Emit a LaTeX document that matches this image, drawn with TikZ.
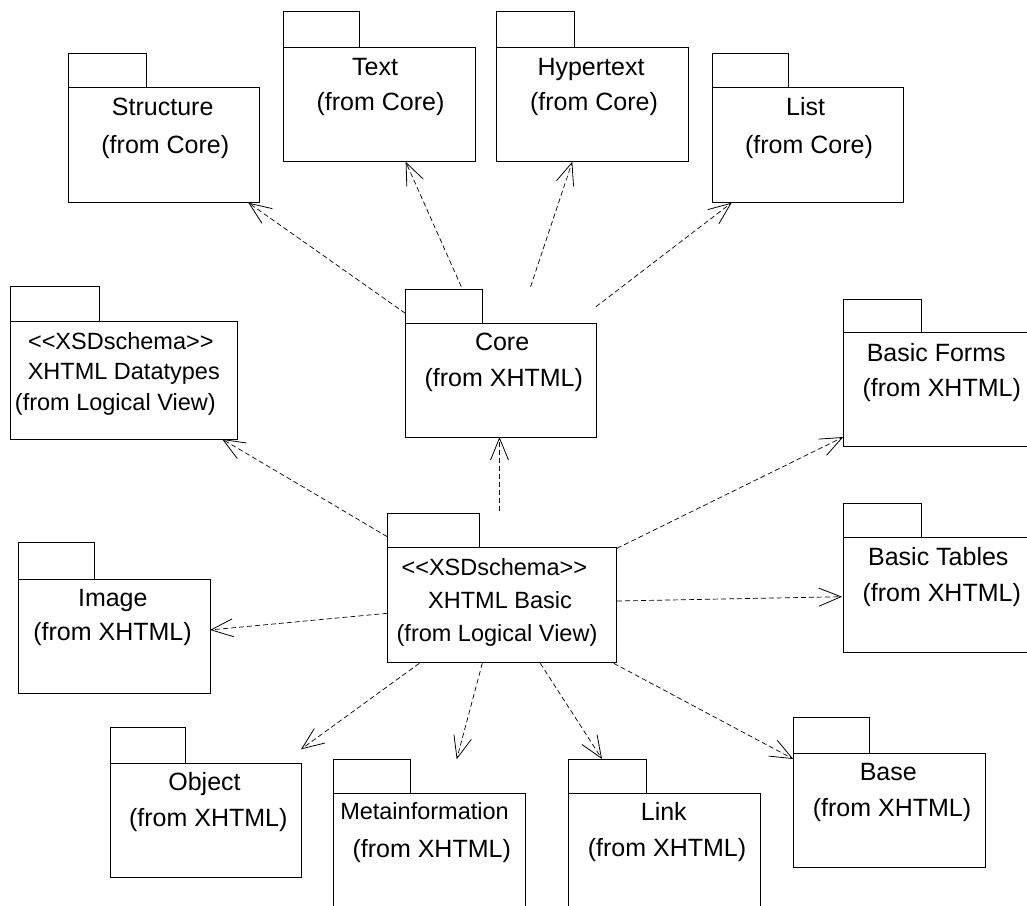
\documentclass[tikz,border=0pt]{standalone}
\usepackage{fontspec}
\setmainfont{Liberation Sans}
\usetikzlibrary{arrows.meta,calc}

\tikzset{
  pkgbox/.style={draw=black, line width=0.9pt, inner sep=0pt, outer sep=0pt},
  lbl/.style={anchor=base, inner sep=0pt, font=\fontsize{25}{29}\selectfont},
  lblsmall/.style={lbl, font=\fontsize{23.5}{28}\selectfont},
  dep/.style={draw=black, line width=0.7pt, dash pattern=on 5pt off 3pt,
    -{Straight Barb[length=22pt,width=18pt,line width=0.8pt]}},
}

% UML package: body node #1 and tab node #1-tab
% #2,#3 = body top-left, #4,#5 = body bottom-right, #6 = tab right edge, #7 = tab top
\newcommand\umlpkg[7]{%
  \node[pkgbox, minimum width={(#4-#2)*1pt}, minimum height={(#5-#3)*1pt}]
    (#1) at ({(#2+#4)/2},{(#3+#5)/2}) {};
  \node[pkgbox, minimum width={(#6-#2)*1pt}, minimum height={(#3-#7)*1pt}]
    (#1-tab) at ({(#2+#6)/2},{(#3+#7)/2}) {};
}
\newcommand\stereo[1]{<\kern0pt<#1>\kern0pt>}

\begin{document}
\begin{tikzpicture}[x=1pt,y=-1pt]
\useasboundingbox (0,0) rectangle (1027,905);
\clip (0,0) rectangle (1027,905);

% packages
\umlpkg{structure}{68.3}{87.3}{259.7}{202.7}{146}{53.3}
\umlpkg{text}{283.3}{47}{475}{161.7}{359.3}{11}
\umlpkg{hypertext}{496.8}{47}{688}{161.7}{574.6}{11}
\umlpkg{list}{712.3}{87.3}{903.7}{202.7}{788}{53.3}
\umlpkg{datatypes}{10.7}{321.7}{237.3}{439}{99.7}{286.7}
\umlpkg{core}{405.3}{323.3}{596.7}{437}{482.4}{289.5}
\umlpkg{forms}{843.3}{332.7}{1040}{446.7}{921.7}{299.3}
\umlpkg{basic}{387.3}{547.3}{616.3}{662.7}{479}{513.3}
\umlpkg{tables}{843.7}{537.3}{1040}{652.7}{921.7}{503.3}
\umlpkg{image}{18.3}{579}{210}{693.3}{94.3}{542.7}
\umlpkg{object}{110}{763.3}{301.7}{877}{185.7}{727.3}
\umlpkg{meta}{333.3}{793.3}{525}{920}{410.7}{759.3}
\umlpkg{link}{568.3}{793.3}{760}{920}{646.5}{759.3}
\umlpkg{base}{793.3}{753.7}{985}{867}{869.7}{717.3}

% package labels
\node[lbl] (structure-l1) at (162.7,115.7) {Structure};
\node[lbl] (structure-l2) at (165.3,153.3) {(from Core)};
\node[lbl] (text-l1) at (375,75) {Text};
\node[lbl] (text-l2) at (380.5,110) {(from Core)};
\node[lbl] (hypertext-l1) at (591,75) {Hypertext};
\node[lbl] (hypertext-l2) at (594,110) {(from Core)};
\node[lbl] (list-l1) at (805.6,115.7) {List};
\node[lbl] (list-l2) at (809,153.3) {(from Core)};
\node[lblsmall] (datatypes-l1) at (120.8,349) {\stereo{XSDschema}};
\node[lblsmall] (datatypes-l2) at (123.8,379) {XHTML Datatypes};
\node[lblsmall] (datatypes-l3) at (115.3,410) {(from Logical View)};
\node[lbl] (core-l1) at (502.1,350.7) {Core};
\node[lbl] (core-l2) at (503.8,386.7) {(from XHTML)};
\node[lbl] (forms-l1) at (936.2,361) {Basic Forms};
\node[lbl] (forms-l2) at (941.7,396.7) {(from XHTML)};
\node[lblsmall] (basic-l1) at (494.3,575) {\stereo{XSDschema}};
\node[lblsmall] (basic-l2) at (500,608) {XHTML Basic};
\node[lblsmall] (basic-l3) at (497,641) {(from Logical View)};
\node[lbl] (tables-l1) at (938.3,565) {Basic Tables};
\node[lbl] (tables-l2) at (941.7,601.7) {(from XHTML)};
\node[lbl] (image-l1) at (112.8,606) {Image};
\node[lbl] (image-l2) at (112.5,640) {(from XHTML)};
\node[lbl] (object-l1) at (204.5,790.7) {Object};
\node[lbl] (object-l2) at (208.3,826.7) {(from XHTML)};
\node[lblsmall] (meta-l1) at (424.5,819.3) {Metainformation};
\node[lbl] (meta-l2) at (431.7,857) {(from XHTML)};
\node[lbl] (link-l1) at (663.8,820) {Link};
\node[lbl] (link-l2) at (667,856.7) {(from XHTML)};
\node[lbl] (base-l1) at (888.3,780) {Base};
\node[lbl] (base-l2) at (892,816.7) {(from XHTML)};

% dependencies of Core
\draw[dep] ($(core.north west)+(0,-10)$) -- ($(structure.south east)+(-11.4,0)$);
\draw[dep] ($(core.north west)+(56,-36.6)$) -- ($(text.south)+(26.5,0)$);
\draw[dep] ($(core.north)+(29.6,-36.6)$) -- ($(hypertext.south)+(-20.1,0)$);
\draw[dep] ($(core.north east)+(-0.7,-16.6)$) -- ($(list.south west)+(19.4,0)$);

% dependencies of XHTML Basic
\draw[dep] ($(basic.north)+(-2.3,-36.3)$) -- ($(core.south)+(-1.5,0)$);
\draw[dep] ($(basic.north west)+(0,-10.6)$) -- ($(datatypes.south east)+(-15.3,0)$);
\draw[dep] ($(basic.north east)+(0.7,1)$) -- ($(forms.south west)+(0,-9.7)$);
\draw[dep] ($(basic.east)+(0.7,-4)$) -- ($(tables.west)+(-1.7,1.7)$);
\draw[dep] ($(basic.west)+(0,8.3)$) -- ($(image.east)+(0,-6.2)$);
\draw[dep] ($(basic.south west)+(32,0.6)$) -- ($(object.north east)+(-0.7,-14)$);
\draw[dep] ($(basic.south west)+(95,0.6)$) -- ($(meta.north west)+(123.4,-34)$);
\draw[dep] ($(basic.south west)+(153,0.6)$) -- ($(link.north west)+(33.7,-34.3)$);
\draw[dep] ($(basic.south east)+(-2.6,0.6)$) -- ($(base.north west)+(0,5.3)$);
\end{tikzpicture}
\end{document}
